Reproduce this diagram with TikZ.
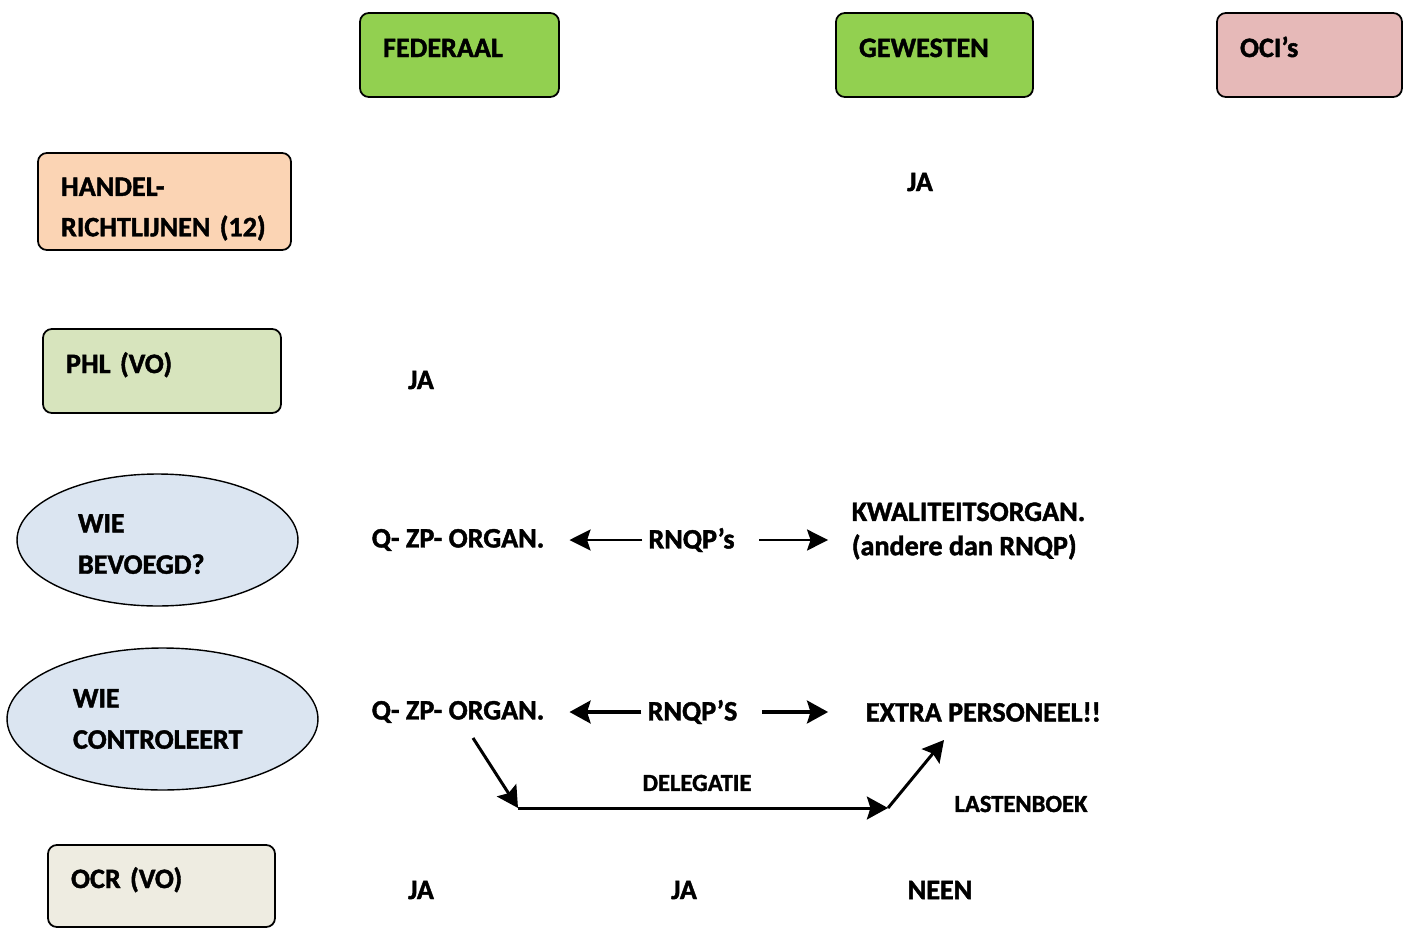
\documentclass[tikz,border=0pt]{standalone}
\usepackage{fontspec}
\setmainfont[FakeBold=1.5]{Carlito}
\usepackage{xcolor}
\usepackage{tikz}
\usetikzlibrary{shapes,arrows.meta}
\definecolor{fedgreen}{RGB}{146,208,80}
\definecolor{ocipink}{RGB}{230,185,184}
\definecolor{handelorange}{RGB}{251,212,180}
\definecolor{phlgreen}{RGB}{215,228,189}
\definecolor{vraagblue}{RGB}{219,229,241}
\definecolor{ocrbeige}{RGB}{238,236,225}
\tikzstyle{box} = [rectangle, draw, line width=1pt, rounded corners=5pt, align=left, inner xsep=0.46cm]
\tikzstyle{oneline} = [box, text height=12pt, text depth=9.7pt]
\tikzstyle{vraag} = [ellipse, draw, line width=0.8pt, fill=vraagblue, align=left, inner sep=0pt, font=\fontsize{16}{23.5}\bfseries]
\tikzstyle{small} = [font=\fontsize{14}{17}\bfseries]
\tikzstyle{line} = [draw, -{Stealth[length=12pt, width=12pt, inset=2pt]}, line width=1.2pt]
\tikzstyle{thickline} = [draw, -{Stealth[length=12pt, width=13pt, inset=2pt]}, line width=2pt]

\begin{document}
\begin{tikzpicture}[x=0.02cm, y=-0.02cm, every node/.style={font=\fontsize{16}{22}\bfseries}]
    \useasboundingbox (0,0) rectangle (1403,930);

    % kolommen
    \node [oneline, fill=fedgreen, text width=3.06cm, minimum height=1.68cm] (federaal) at (459.5,55) {FEDERAAL};
    \node [oneline, fill=fedgreen, text width=3.02cm, minimum height=1.68cm] (gewesten) at (934.5,55) {GEWESTEN};
    \node [oneline, fill=ocipink,  text width=2.78cm, minimum height=1.68cm] (ocis) at (1309.5,55) {OCI’s};

    % rijen
    \node [box, fill=handelorange, text width=4.14cm, minimum height=1.94cm, text height=19pt, font=\fontsize{16}{23}\bfseries] (handel) at (164.5,201.5) {HANDEL-\\RICHTLIJNEN (12)};
    \node [oneline, fill=phlgreen, text width=3.84cm, minimum height=1.68cm] (phl) at (162,371) {PHL (VO)};
    \node [vraag, text width=3.18cm, minimum width=5.62cm, minimum height=2.64cm, text height=15pt] (bevoegd) at (157.5,540) {WIE\\BEVOEGD?};
    \node [vraag, text width=3.58cm, minimum width=6.22cm, minimum height=2.84cm] (controle) at (162.5,719) {WIE\\CONTROLEERT};
    \node [oneline, fill=ocrbeige, text width=3.62cm, minimum height=1.64cm] (ocr) at (161.5,886) {OCR (VO)};

    % antwoorden
    \node (jaHandel) at (920,182) {JA};
    \node (jaPhl) at (421,380) {JA};

    \node (qzp1) at (458,540) {Q- ZP- ORGAN.};
    \node (rnqp1) at (691.5,540) {RNQP’s};
    \node [anchor=west, align=left, font=\fontsize{16}{19.5}\bfseries] (kwal) at (845.6,531) {KWALITEITSORGAN.\\(andere dan RNQP)};

    \node (qzp2) at (458,712) {Q- ZP- ORGAN.};
    \node (rnqp2) at (692.5,712) {RNQP’S};
    \node [anchor=west] (extra) at (859.6,712) {EXTRA PERSONEEL!!};

    \node [small] (delegatie) at (697,783) {DELEGATIE};
    \node [small] (lastenboek) at (1021,804) {LASTENBOEK};

    \node (jaOcr1) at (421,890) {JA};
    \node (jaOcr2) at (684,890) {JA};
    \node (neen) at (940,890) {NEEN};

    \coordinate (delStart) at (473,738);
    \coordinate (delLinks) at (518,808);
    \coordinate (delRechts) at (888,808);
    \coordinate (delEind) at (944,740);

    \path [line, shorten >=0.38cm] (rnqp1.west) -- (qzp1.east);
    \path [line, shorten <=0.37cm, shorten >=0.35cm] (rnqp1.east) -- (rnqp1.east -| kwal.west);
    \path [thickline, shorten >=0.38cm] (rnqp2.west) -- (qzp2.east);
    \path [thickline, shorten <=0.37cm, shorten >=0.63cm] (rnqp2.east) -- (rnqp2.east -| extra.west);

    \path [thickline, line width=1.7pt] (delStart) -- (delLinks);
    \path [thickline, line width=1.7pt] (delLinks) -- (delRechts);
    \path [thickline, line width=1.7pt] (delRechts) -- (delEind);
\end{tikzpicture}
\end{document}
